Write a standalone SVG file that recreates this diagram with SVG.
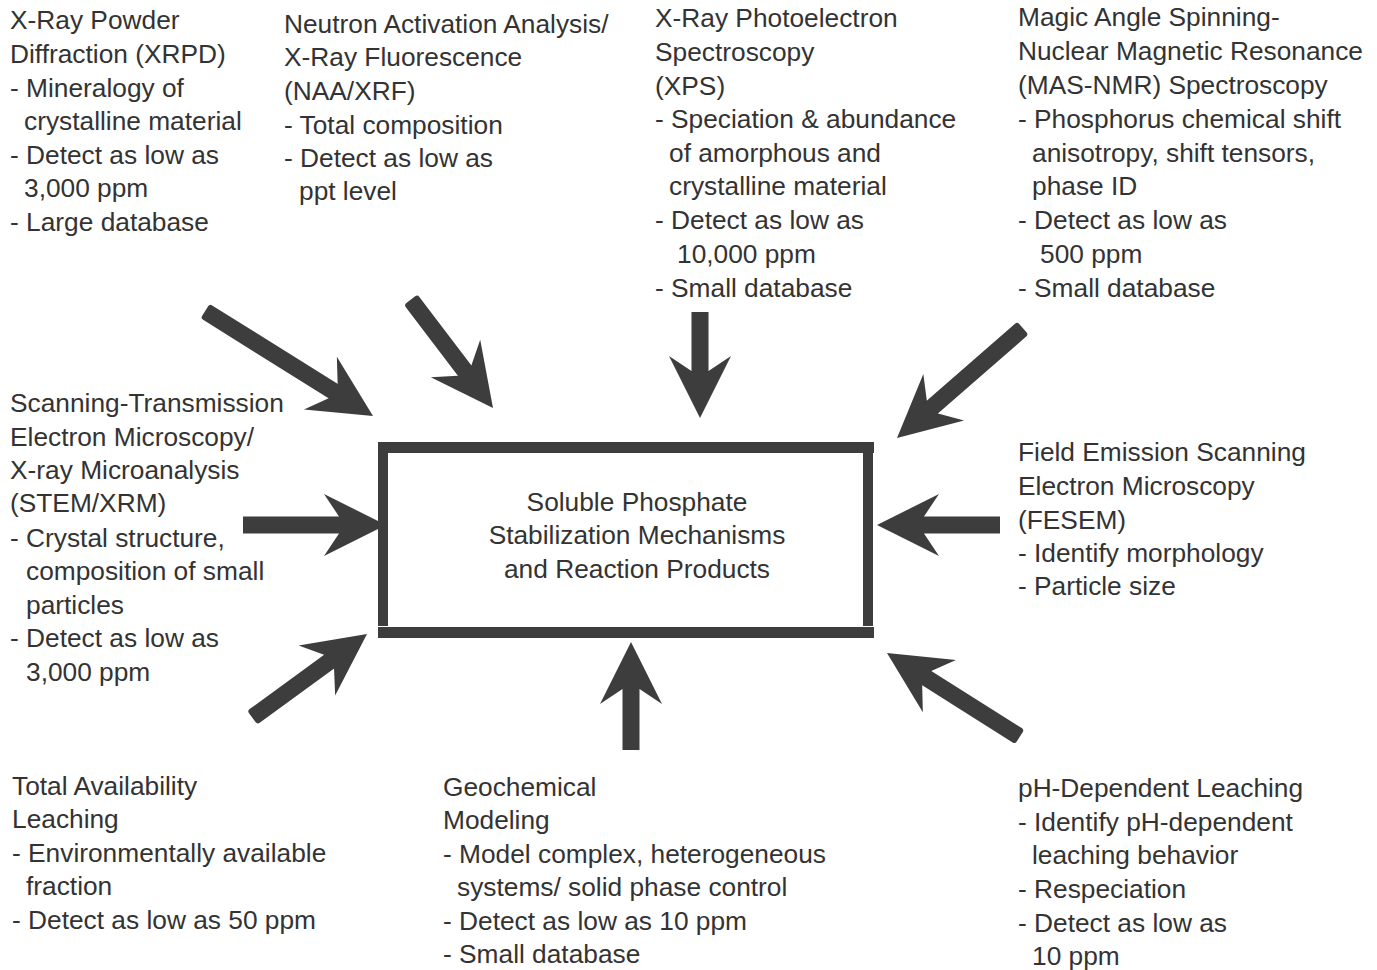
<svg xmlns="http://www.w3.org/2000/svg" width="1377" height="970" viewBox="0 0 1377 970">
<style>
text{font-family:"Liberation Sans",Arial,sans-serif;font-size:26.3px;fill:#333}
.bar{fill:#3d3d3d}
.arr{fill:#3d3d3d}
</style>
<defs>
<polygon id="ah" points="0,0 -62,-31 -47,-8.5 -47,8.5 -62,31"/>
</defs>
<rect width="1377" height="970" fill="#fff"/>

<g id="center">
<rect class="bar" x="378" y="442" width="496" height="11"/>
<rect class="bar" x="378" y="453" width="10" height="173"/>
<rect class="bar" x="863" y="453" width="10" height="173"/>
<rect class="bar" x="378" y="627" width="496" height="11"/>
<text text-anchor="middle"><tspan x="637" y="511">Soluble Phosphate</tspan><tspan x="637" y="544">Stabilization Mechanisms</tspan><tspan x="637" y="578">and Reaction Products</tspan></text>
</g>

<g id="xrpd"><text>
<tspan x="10" y="29">X-Ray Powder</tspan>
<tspan x="10" y="63">Diffraction (XRPD)</tspan>
<tspan x="10" y="97">- Mineralogy of</tspan>
<tspan x="24" y="130">crystalline material</tspan>
<tspan x="10" y="164">- Detect as low as</tspan>
<tspan x="24" y="197">3,000 ppm</tspan>
<tspan x="10" y="231">- Large database</tspan>
</text></g>

<g id="naa"><text>
<tspan x="284" y="33">Neutron Activation Analysis/</tspan>
<tspan x="284" y="66">X-Ray Fluorescence</tspan>
<tspan x="284" y="100">(NAA/XRF)</tspan>
<tspan x="284" y="134">- Total composition</tspan>
<tspan x="284" y="167">- Detect as low as</tspan>
<tspan x="299" y="200">ppt level</tspan>
</text></g>

<g id="xps"><text>
<tspan x="655" y="27">X-Ray Photoelectron</tspan>
<tspan x="655" y="61">Spectroscopy</tspan>
<tspan x="655" y="95">(XPS)</tspan>
<tspan x="655" y="128">- Speciation &amp; abundance</tspan>
<tspan x="669" y="162">of amorphous and</tspan>
<tspan x="669" y="195">crystalline material</tspan>
<tspan x="655" y="229">- Detect as low as</tspan>
<tspan x="677" y="263">10,000 ppm</tspan>
<tspan x="655" y="297">- Small database</tspan>
</text></g>

<g id="masnmr"><text>
<tspan x="1018" y="26">Magic Angle Spinning-</tspan>
<tspan x="1018" y="60">Nuclear Magnetic Resonance</tspan>
<tspan x="1018" y="94">(MAS-NMR) Spectroscopy</tspan>
<tspan x="1018" y="128">- Phosphorus chemical shift</tspan>
<tspan x="1032" y="162">anisotropy, shift tensors,</tspan>
<tspan x="1032" y="195">phase ID</tspan>
<tspan x="1018" y="229">- Detect as low as</tspan>
<tspan x="1040" y="263">500 ppm</tspan>
<tspan x="1018" y="297">- Small database</tspan>
</text></g>

<g id="stem"><text>
<tspan x="10" y="412">Scanning-Transmission</tspan>
<tspan x="10" y="446">Electron Microscopy/</tspan>
<tspan x="10" y="479">X-ray Microanalysis</tspan>
<tspan x="10" y="512">(STEM/XRM)</tspan>
<tspan x="10" y="547">- Crystal structure,</tspan>
<tspan x="26" y="580">composition of small</tspan>
<tspan x="26" y="614">particles</tspan>
<tspan x="10" y="647">- Detect as low as</tspan>
<tspan x="26" y="681">3,000 ppm</tspan>
</text></g>

<g id="fesem"><text>
<tspan x="1018" y="461">Field Emission Scanning</tspan>
<tspan x="1018" y="495">Electron Microscopy</tspan>
<tspan x="1018" y="529">(FESEM)</tspan>
<tspan x="1018" y="562">- Identify morphology</tspan>
<tspan x="1018" y="595">- Particle size</tspan>
</text></g>

<g id="tal"><text>
<tspan x="12" y="795">Total Availability</tspan>
<tspan x="12" y="828">Leaching</tspan>
<tspan x="12" y="862">- Environmentally available</tspan>
<tspan x="26" y="895">fraction</tspan>
<tspan x="12" y="929">- Detect as low as 50 ppm</tspan>
</text></g>

<g id="geochem"><text>
<tspan x="443" y="796">Geochemical</tspan>
<tspan x="443" y="829">Modeling</tspan>
<tspan x="443" y="863">- Model complex, heterogeneous</tspan>
<tspan x="457" y="896">systems/ solid phase control</tspan>
<tspan x="443" y="930">- Detect as low as 10 ppm</tspan>
<tspan x="443" y="963">- Small database</tspan>
</text></g>

<g id="phleach"><text>
<tspan x="1018" y="797">pH-Dependent Leaching</tspan>
<tspan x="1018" y="831">- Identify pH-dependent</tspan>
<tspan x="1032" y="864">leaching behavior</tspan>
<tspan x="1018" y="898">- Respeciation</tspan>
<tspan x="1018" y="932">- Detect as low as</tspan>
<tspan x="1032" y="965">10 ppm</tspan>
</text></g>

<g id="connectors" class="arr">
<g transform="translate(373,416) rotate(32)"><use href="#ah"/><rect x="-198" y="-8.5" width="160" height="17" rx="3"/></g>
<g transform="translate(493,408) rotate(52.8)"><use href="#ah"/><rect x="-136" y="-8.5" width="100" height="17" rx="3"/></g>
<g transform="translate(700,418) rotate(90)"><use href="#ah"/><rect x="-106" y="-8.5" width="70" height="17"/></g>
<g transform="translate(897,438) rotate(138.9)"><use href="#ah"/><rect x="-167" y="-8.5" width="130" height="17" rx="3"/></g>
<g transform="translate(386,525) rotate(0)"><use href="#ah"/><rect x="-143" y="-8.5" width="110" height="17"/></g>
<g transform="translate(877,525) rotate(180)"><use href="#ah"/><rect x="-123" y="-8.5" width="90" height="17"/></g>
<g transform="translate(367,634) rotate(-36.1)"><use href="#ah"/><rect x="-142" y="-8.5" width="110" height="17" rx="3"/></g>
<g transform="translate(631,642) rotate(-90)"><use href="#ah"/><rect x="-108" y="-8.5" width="70" height="17"/></g>
<g transform="translate(887,653) rotate(-147.7)"><use href="#ah"/><rect x="-157" y="-8.5" width="120" height="17" rx="3"/></g>
</g>
</svg>
